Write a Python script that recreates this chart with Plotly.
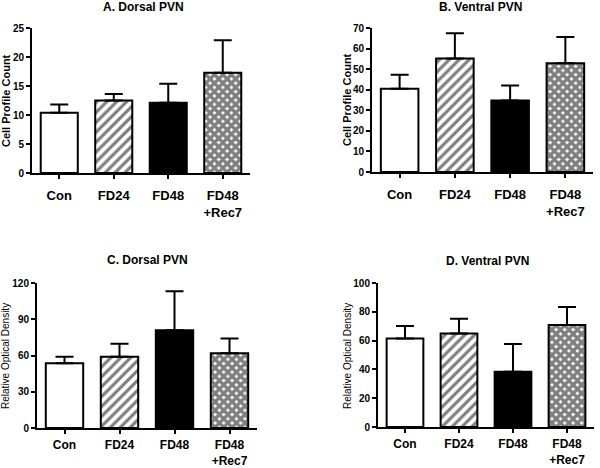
import plotly.graph_objects as go

categories = ["Con", "FD24", "FD48", "FD48<br>+Rec7"]

a_title = "A. Dorsal PVN"
a_values = [10.4, 12.5, 12.1, 17.3]
a_sem = [1.4, 1.1, 3.3, 5.6]

b_title = "B. Ventral PVN"
b_values = [40.5, 55.2, 34.8, 52.9]
b_sem = [6.8, 12.2, 7.2, 12.7]

c_title = "C. Dorsal PVN"
c_values = [53.5, 59.0, 81.0, 61.8]
c_sem = [5.5, 10.7, 32.2, 12.3]

d_title = "D. Ventral PVN"
d_values = [61.4, 65.0, 38.4, 70.8]
d_sem = [8.7, 10.2, 19.3, 12.6]

W, H = 600, 468
FONT = "Liberation Sans"

panels = [
    dict(title=a_title, vals=a_values, sem=a_sem, ytitle="Cell Profile Count",
         xd=(32, 250), yd=(28, 173), yr=25, dt=5, tx=143, ty=7, yx=6, yy=101, yfs=11, yw="bold",
         xfs=13, xso=5),
    dict(title=b_title, vals=b_values, sem=b_sem, ytitle="Cell Profile Count",
         xd=(372, 593), yd=(28, 172), yr=70, dt=10, tx=480, ty=7, yx=347, yy=100, yfs=11, yw="bold",
         xfs=13, xso=5),
    dict(title=c_title, vals=c_values, sem=c_sem, ytitle="Relative Optical Density",
         xd=(37, 257), yd=(283, 428), yr=120, dt=30, tx=147, ty=260, yx=5, yy=356, yfs=10, yw="normal",
         xfs=12, xso=1),
    dict(title=d_title, vals=d_values, sem=d_sem, ytitle="Relative Optical Density",
         xd=(378, 594), yd=(283, 427), yr=100, dt=20, tx=487, ty=261, yx=347, yy=356, yfs=10, yw="normal",
         xfs=12, xso=1),
]

fills = [
    dict(color="white", pattern=dict(shape="")),
    dict(color="white", pattern=dict(shape="/", fgcolor="black", bgcolor="white", size=7, solidity=0.45)),
    dict(color="black", pattern=dict(shape="")),
    dict(color="white", pattern=dict(shape="x", fgcolor="black", bgcolor="white", size=6, solidity=0.8)),
]

fig = go.Figure()
layout = dict(width=W, height=H, margin=dict(l=0, r=0, t=0, b=0, autoexpand=False),
              paper_bgcolor="white", plot_bgcolor="white", showlegend=False,
              font=dict(family=FONT, color="black"), annotations=[])

for i, p in enumerate(panels):
    n = "" if i == 0 else str(i + 1)
    xa, ya = "x" + n, "y" + n
    for j, cat in enumerate(categories):
        f = fills[j]
        fig.add_trace(go.Bar(
            x=[cat], y=[p["vals"][j]], xaxis=xa, yaxis=ya, width=0.68,
            marker=dict(color=f["color"], pattern=f["pattern"],
                        line=dict(color="black", width=2)),
            error_y=dict(type="data", symmetric=False, array=[p["sem"][j]],
                         arrayminus=[0], color="black", thickness=2, width=9),
        ))
    layout["xaxis" + n] = dict(
        domain=[p["xd"][0] / W, p["xd"][1] / W], anchor=ya, automargin=False,
        categoryorder="array", categoryarray=categories, range=[-0.5, 3.5],
        showline=True, linecolor="black", linewidth=2, ticks="outside",
        ticklen=4, tickwidth=2, tickcolor="black", showgrid=False, zeroline=False,
        tickfont=dict(family=FONT, size=p["xfs"], weight="bold"), ticklabelstandoff=p["xso"],
    )
    layout["yaxis" + n] = dict(
        domain=[1 - p["yd"][1] / H, 1 - p["yd"][0] / H], anchor=xa, automargin=False,
        range=[0, p["yr"]], dtick=p["dt"], tick0=0,
        showline=True, linecolor="black", linewidth=2, ticks="outside",
        ticklen=4, tickwidth=2, tickcolor="black", showgrid=False, zeroline=False,
        tickfont=dict(family=FONT, size=10, weight="bold"), ticklabelstandoff=0,
    )
    layout["annotations"].append(dict(
        text=p["title"], x=p["tx"] / W, y=1 - p["ty"] / H, xref="paper", yref="paper",
        showarrow=False, xanchor="center", yanchor="middle",
        font=dict(family=FONT, size=12, weight="bold")))
    layout["annotations"].append(dict(
        text=p["ytitle"], x=p["yx"] / W, y=1 - p["yy"] / H, xref="paper", yref="paper",
        showarrow=False, xanchor="center", yanchor="middle", textangle=-90,
        font=dict(family=FONT, size=p["yfs"], weight=p["yw"])))

fig.update_layout(**layout)
fig.write_html("out.html", config={"displayModeBar": False, "staticPlot": True},
               post_script="document.body.style.margin='0';document.body.style.overflow='hidden';")
